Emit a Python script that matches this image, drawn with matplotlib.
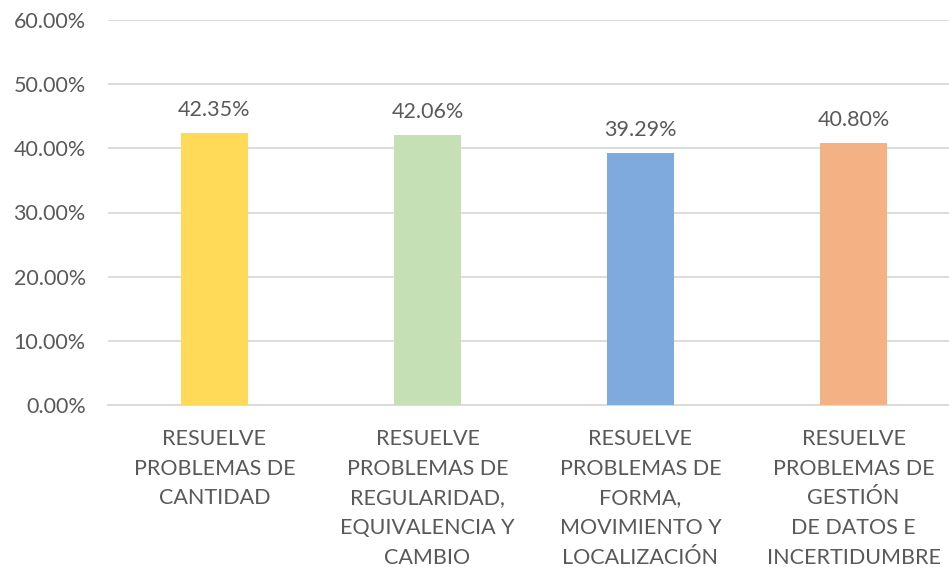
import matplotlib.pyplot as plt
import numpy as np

categorias = ['RESUELVE\nPROBLEMAS DE\nCANTIDAD',
              'RESUELVE\nPROBLEMAS DE\nREGULARIDAD,\nEQUIVALENCIA Y\nCAMBIO',
              'RESUELVE\nPROBLEMAS DE\nFORMA,\nMOVIMIENTO Y\nLOCALIZACIÓN',
              'RESUELVE\nPROBLEMAS DE\nGESTIÓN\nDE DATOS E\nINCERTIDUMBRE']
valores = [42.35, 42.06, 39.29, 40.80]
colores = ['#FFD957', '#C5E0B4', '#7FAADD', '#F4B183']

plt.rcParams['font.family'] = ['Lato', 'DejaVu Sans']
gris = '#595959'
fs = 15.5

fig = plt.figure(figsize=(9.49, 5.67), dpi=100)
ax = fig.add_axes([108/949, 1-405/567, 852/949, 385/567])

x = np.arange(len(valores))
ax.bar(x, valores, width=0.315, color=colores, zorder=3)
for xi, v in zip(x, valores):
    ax.text(xi, v + 2.0, f'{v:.2f}%', ha='center', va='bottom', fontsize=fs, color=gris)

ax.set_ylim(0, 60)
ax.set_xlim(-0.5, 3.5)
ax.set_yticks(np.arange(0, 61, 10))
ax.set_yticklabels([f'{t:.2f}%' for t in np.arange(0, 61, 10)])
ax.grid(axis='y', color='#D9D9D9', linewidth=1.3, zorder=0)
ax.set_xticks(x)
ax.set_xticklabels(categorias, linespacing=1.62)
ax.tick_params(axis='both', length=0, labelsize=fs, labelcolor=gris)
ax.tick_params(axis='y', pad=16)
ax.tick_params(axis='x', pad=17)
for s in ['top', 'right', 'left']:
    ax.spines[s].set_visible(False)
ax.spines['bottom'].set_color('#D9D9D9')
ax.spines['bottom'].set_linewidth(1.3)

fig.savefig('out.png', dpi=100)
